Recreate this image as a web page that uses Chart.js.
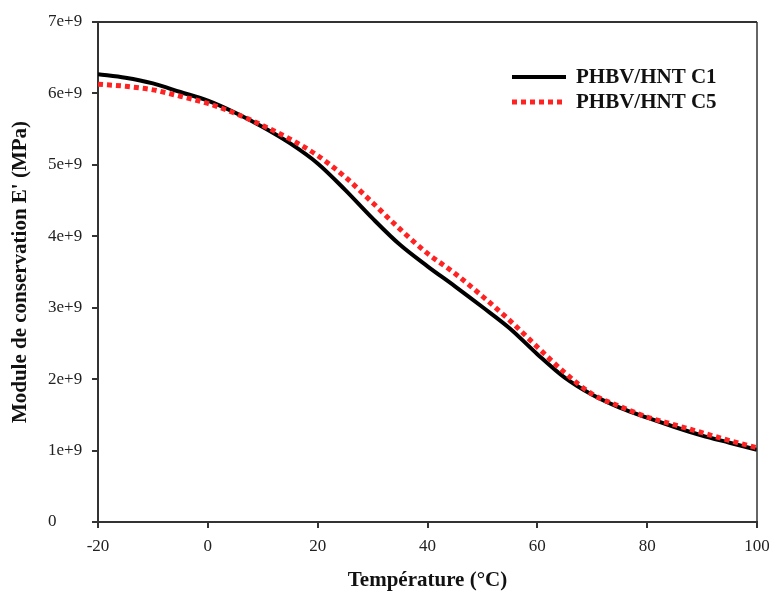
<!DOCTYPE html>
<html>
<head>
<meta charset="utf-8">
<script src="https://cdn.jsdelivr.net/npm/chart.js@4.4.0/dist/chart.umd.min.js"></script>
<style>
  html, body { margin: 0; padding: 0; background: #fff; overflow: hidden; }
  #wrap { width: 790px; height: 596px; position: relative; }
</style>
</head>
<body>
<div id="wrap"><canvas id="dmaChart"></canvas></div>
<script>
// Data (temperature in degC, storage modulus)
const temps = [-20, -15, -10, -5, 0, 5, 10, 15, 20, 25, 30, 35, 40, 45, 50, 55, 60, 65, 70, 75, 80, 85, 90, 95, 100];
const modC1 = [6.27e9, 6.22e9, 6.14e9, 6.02e9, 5.90e9, 5.73e9, 5.53e9, 5.30e9, 5.02e9, 4.65e9, 4.25e9, 3.88e9, 3.58e9, 3.30e9, 3.01e9, 2.71e9, 2.35e9, 2.02e9, 1.78e9, 1.60e9, 1.46e9, 1.33e9, 1.21e9, 1.11e9, 1.01e9];
const modC5 = [6.13e9, 6.10e9, 6.05e9, 5.96e9, 5.86e9, 5.72e9, 5.55e9, 5.36e9, 5.13e9, 4.83e9, 4.47e9, 4.10e9, 3.76e9, 3.48e9, 3.16e9, 2.82e9, 2.45e9, 2.09e9, 1.79e9, 1.62e9, 1.47e9, 1.36e9, 1.25e9, 1.14e9, 1.04e9];
const seriesNames = ['PHBV/HNT C1', 'PHBV/HNT C5'];
const xTitle = 'Temp\u00e9rature (\u00b0C)';
const yTitle = "Module de conservation E' (MPa)";

const serif = 'Liberation Serif';
const axisColor = '#333';

// Frame on top and right + legend in the upper right corner
const framePlugin = {
    id: 'frame',
    afterDraw(chart) {
        const ctx = chart.ctx;
        const a = chart.chartArea;
        ctx.save();
        ctx.strokeStyle = axisColor;
        ctx.lineWidth = 2;
        ctx.beginPath();
        ctx.moveTo(a.left, a.top);
        ctx.lineTo(a.right, a.top);
        ctx.stroke();
        ctx.lineWidth = 1.5;
        ctx.beginPath();
        ctx.moveTo(a.right, a.top);
        ctx.lineTo(a.right, a.bottom);
        ctx.stroke();

        // legend
        const rows = [77, 102];
        ctx.font = 'bold 21px "' + serif + '"';
        ctx.textBaseline = 'middle';
        ctx.fillStyle = '#111';
        chart.data.datasets.forEach((ds, i) => {
            ctx.strokeStyle = ds.borderColor;
            ctx.lineWidth = ds.borderWidth;
            ctx.setLineDash(ds.borderDash || []);
            ctx.beginPath();
            ctx.moveTo(512, rows[i]);
            ctx.lineTo(566, rows[i]);
            ctx.stroke();
            ctx.setLineDash([]);
            ctx.fillText(ds.label, 576, rows[i] + 1);
        });
        ctx.restore();
    }
};

const ctx = document.getElementById('dmaChart').getContext('2d');
const dmaChart = new Chart(ctx, {
    type: 'line',
    data: {
        datasets: [
            {
                label: seriesNames[0],
                data: temps.map((t, i) => ({ x: t, y: modC1[i] })),
                borderColor: '#000000',
                borderWidth: 4,
                pointRadius: 0,
                cubicInterpolationMode: 'monotone',
                order: 2
            },
            {
                label: seriesNames[1],
                data: temps.map((t, i) => ({ x: t, y: modC5[i] })),
                borderColor: '#ff2222',
                borderWidth: 5,
                borderDash: [5, 4],
                borderCapStyle: 'butt',
                pointRadius: 0,
                cubicInterpolationMode: 'monotone',
                order: 1
            }
        ]
    },
    options: {
        responsive: true,
        maintainAspectRatio: false,
        animation: false,
        layout: {
            padding: { left: 48, right: 33, top: 22, bottom: 0 }
        },
        plugins: {
            legend: { display: false },
            tooltip: { enabled: false }
        },
        scales: {
            x: {
                type: 'linear',
                min: -20,
                max: 100,
                afterFit: (scale) => { scale.height = 74; },
                ticks: {
                    stepSize: 20,
                    padding: 8,
                    color: '#222',
                    font: { family: serif, size: 17 }
                },
                grid: {
                    drawOnChartArea: false,
                    drawTicks: true,
                    tickLength: 6,
                    color: axisColor,
                    lineWidth: 2
                },
                border: { color: axisColor, width: 2 },
                title: {
                    display: true,
                    text: xTitle,
                    color: '#111',
                    font: { family: serif, size: 21, weight: 'bold' },
                    padding: { top: 0, bottom: 3 }
                }
            },
            y: {
                min: 0,
                max: 7e9,
                afterFit: (scale) => { scale.width = 50; },
                ticks: {
                    stepSize: 1e9,
                    crossAlign: 'far',
                    padding: 10,
                    color: '#222',
                    font: { family: serif, size: 17 },
                    callback: (v) => v === 0 ? '0' : (v / 1e9) + 'e+9'
                },
                grid: {
                    drawOnChartArea: false,
                    drawTicks: true,
                    tickLength: 6,
                    color: axisColor,
                    lineWidth: 2
                },
                border: { color: axisColor, width: 2 },
                title: {
                    display: true,
                    text: yTitle,
                    color: '#111',
                    font: { family: serif, size: 21, weight: 'bold' },
                    padding: { top: -40, bottom: 0 }
                }
            }
        }
    },
    plugins: [framePlugin]
});
</script>
</body>
</html>
